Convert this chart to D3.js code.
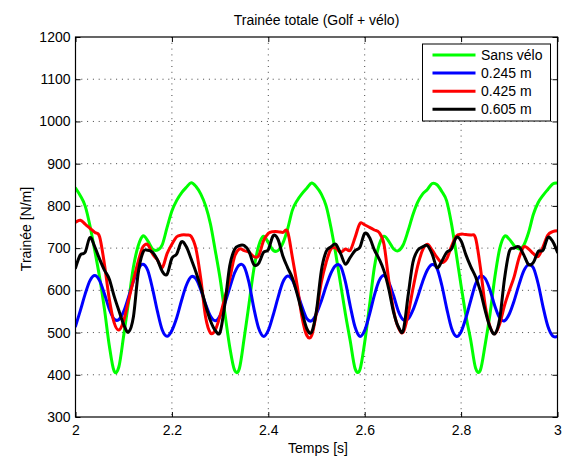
<!DOCTYPE html>
<html>
<head>
<meta charset="utf-8">
<script src="https://cdn.jsdelivr.net/npm/d3@7"></script>
<style>
  body { margin: 0; background: #fff; }
  svg { display: block; }
  text { font-family: "Liberation Sans", Arial, Helvetica, sans-serif; fill: #000; }
</style>
</head>
<body>
<svg id="chart" width="566" height="458"></svg>
<script>
// Sample times (s), one sample every 0.01 s from 2 to 3
const times = d3.range(0, 101).map(i => +(2 + i / 100).toFixed(2));

// Drag per unit length [N/m] for each configuration
const sansVelo = [
  842, 824, 800, 753, 694, 631, 556, 470, 409, 419,
  493, 572, 654, 705, 729, 717, 698, 695, 708, 749,
  788, 813, 831, 844, 855, 846, 828, 800, 757, 694,
  628, 545, 466, 411, 415, 487, 568, 650, 705, 728,
  713, 695, 694, 711, 745, 790, 813, 829, 842, 854,
  845, 828, 800, 749, 686, 615, 544, 480, 415, 412,
  477, 564, 654, 708, 728, 716, 698, 694, 708, 741,
  779, 809, 828, 839, 853, 850, 834, 812, 758, 686,
  611, 540, 482, 416, 411, 472, 544, 631, 698, 728,
  721, 706, 698, 707, 737, 780, 808, 825, 839, 852,
  854
];
const velo0245 = [
  515, 552, 591, 623, 635, 623, 592, 556, 532, 531,
  550, 584, 621, 650, 662, 647, 603, 550, 506, 491,
  505, 535, 576, 612, 632, 627, 601, 567, 539, 528,
  540, 570, 606, 641, 660, 656, 618, 558, 510, 491,
  505, 541, 582, 619, 634, 624, 595, 561, 533, 528,
  545, 575, 610, 641, 659, 657, 620, 563, 513, 491,
  505, 543, 588, 623, 635, 619, 587, 550, 530, 532,
  553, 585, 620, 648, 661, 652, 612, 558, 511, 491,
  502, 535, 576, 615, 634, 628, 601, 563, 535, 528,
  544, 575, 613, 646, 661, 653, 615, 561, 515, 492,
  491
];
const velo0425 = [
  761, 766, 757, 747, 737, 727, 662, 580, 524, 506,
  528, 576, 623, 668, 703, 708, 686, 672, 654, 687,
  709, 727, 731, 731, 728, 698, 627, 536, 499, 506,
  540, 583, 627, 680, 698, 694, 690, 680, 682, 717,
  735, 739, 739, 737, 739, 678, 611, 536, 493, 493,
  548, 619, 666, 698, 700, 690, 698, 695, 725, 758,
  755, 749, 743, 737, 709, 623, 552, 511, 501, 543,
  603, 658, 695, 709, 695, 678, 666, 674, 704, 728,
  733, 732, 731, 724, 654, 564, 514, 497, 520, 564,
  599, 632, 676, 703, 698, 687, 680, 703, 731, 739,
  741
];
const velo0605 = [
  653, 684, 690, 725, 703, 674, 648, 627, 587, 552,
  519, 501, 536, 640, 690, 695, 690, 672, 645, 638,
  676, 686, 715, 703, 674, 643, 607, 564, 528, 505,
  501, 568, 658, 697, 706, 706, 692, 661, 664, 690,
  696, 729, 721, 682, 654, 629, 591, 548, 509, 501,
  552, 646, 692, 703, 709, 687, 662, 678, 694, 702,
  735, 725, 696, 674, 646, 603, 548, 513, 505, 587,
  666, 695, 703, 706, 686, 654, 669, 690, 698, 725,
  717, 684, 656, 632, 598, 552, 513, 497, 532, 627,
  692, 700, 703, 684, 661, 666, 692, 695, 725, 716,
  690
];

const seriesNames = ["Sans vélo", "0.245 m", "0.425 m", "0.605 m"];
const seriesValues = [sansVelo, velo0245, velo0425, velo0605];
const seriesColors = ["#00ff00", "#0000ff", "#ff0000", "#000000"];

const xTicks = [2, 2.2, 2.4, 2.6, 2.8, 3];
const yTicks = [300, 400, 500, 600, 700, 800, 900, 1000, 1100, 1200];

const titleText = "Trainée totale (Golf + vélo)";
const xLabel = "Temps [s]";
const yLabel = "Trainée [N/m]";

// ---- layout ----
const svg = d3.select("#chart");
const W = 566, H = 458;
const m = { left: 75.5, right: 8.5, top: 37, bottom: 41 };
const x = d3.scaleLinear().domain([2, 3]).range([m.left, W - m.right]);
const y = d3.scaleLinear().domain([300, 1200]).range([H - m.bottom, m.top]);
const FS = 14;

// dotted grid
const grid = svg.append("g").attr("stroke", "#444").attr("stroke-width", 1)
  .attr("stroke-dasharray", "1,4.8").attr("fill", "none");
xTicks.slice(1, -1).forEach(t => {
  grid.append("line").attr("x1", x(t)).attr("x2", x(t))
    .attr("y1", y(1200)).attr("y2", y(300));
});
yTicks.slice(1, -1).forEach(t => {
  grid.append("line").attr("x1", x(2)).attr("x2", x(3))
    .attr("y1", y(t)).attr("y2", y(t));
});

// data lines
svg.append("clipPath").attr("id", "plotclip").append("rect")
  .attr("x", x(2)).attr("y", y(1200)).attr("width", x(3) - x(2)).attr("height", y(300) - y(1200));
const line = d3.line()
  .x((d, i) => x(times[i]))
  .y(d => y(d))
  .curve(d3.curveCatmullRom.alpha(0));
const plot = svg.append("g").attr("clip-path", "url(#plotclip)");
seriesValues.forEach((vals, s) => {
  plot.append("path").datum(vals)
    .attr("d", line)
    .attr("fill", "none")
    .attr("stroke", seriesColors[s])
    .attr("stroke-width", 3)
    .attr("stroke-linejoin", "round")
    .attr("stroke-linecap", "round");
});

// axes box with inward ticks on every side
const tickLen = 5;
const axBottom = d3.axisBottom(x).tickValues(xTicks).tickSizeInner(-tickLen).tickSizeOuter(0)
  .tickFormat(d3.format("~g")).tickPadding(8);
const axTop = d3.axisTop(x).tickValues(xTicks).tickSizeInner(-tickLen).tickSizeOuter(0).tickFormat("");
const axLeft = d3.axisLeft(y).tickValues(yTicks).tickSizeInner(-tickLen).tickSizeOuter(0)
  .tickFormat(d3.format("d")).tickPadding(5);
const axRight = d3.axisRight(y).tickValues(yTicks).tickSizeInner(-tickLen).tickSizeOuter(0).tickFormat("");

function styleAxis(g) {
  g.select(".domain").remove();
  g.selectAll(".tick line").attr("stroke", "#000").attr("stroke-width", 1);
  g.selectAll(".tick text").attr("font-size", FS)
    .attr("font-family", "'Liberation Sans', Arial, Helvetica, sans-serif").attr("fill", "#000");
}
svg.append("g").attr("transform", `translate(0,${y(300)})`).call(axBottom).call(styleAxis);
svg.append("g").attr("transform", `translate(0,${y(1200)})`).call(axTop).call(styleAxis);
svg.append("g").attr("transform", `translate(${x(2)},0)`).call(axLeft).call(styleAxis);
svg.append("g").attr("transform", `translate(${x(3)},0)`).call(axRight).call(styleAxis);

svg.append("rect")
  .attr("x", x(2)).attr("y", y(1200))
  .attr("width", x(3) - x(2)).attr("height", y(300) - y(1200))
  .attr("fill", "none").attr("stroke", "#000").attr("stroke-width", 1.2);

// title and axis labels
svg.append("text").attr("x", (x(2) + x(3)) / 2).attr("y", 25)
  .attr("text-anchor", "middle").attr("font-size", FS).text(titleText);
svg.append("text").attr("x", 318).attr("y", 453)
  .attr("text-anchor", "middle").attr("font-size", FS).text(xLabel);
svg.append("text").attr("transform", `translate(31,229) rotate(-90)`)
  .attr("text-anchor", "middle").attr("font-size", FS).text(yLabel);

// legend
const lg = svg.append("g").attr("transform", "translate(422.5,44)");
lg.append("rect").attr("width", 128).attr("height", 77)
  .attr("fill", "#fff").attr("stroke", "#000").attr("stroke-width", 1);
seriesNames.forEach((name, i) => {
  const cy = 11 + i * 18.1;
  lg.append("line").attr("x1", 10).attr("x2", 53).attr("y1", cy).attr("y2", cy)
    .attr("stroke", seriesColors[i]).attr("stroke-width", 3);
  lg.append("text").attr("x", 58.5).attr("y", cy).attr("dy", "0.36em")
    .attr("font-size", FS).text(name);
});
</script>
</body>
</html>
